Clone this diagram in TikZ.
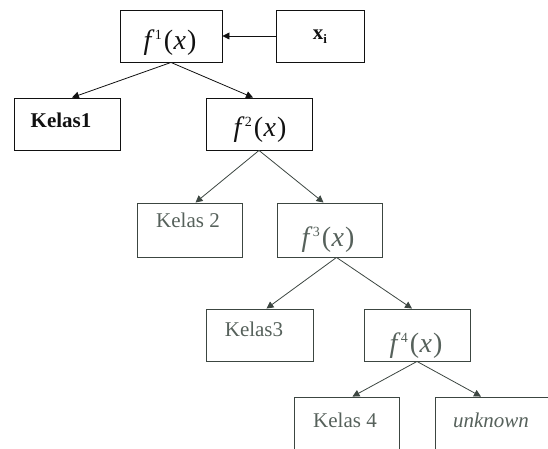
\documentclass[tikz,border=0pt]{standalone}
\usepackage{fontspec}
\setmainfont{Liberation Serif}
\usetikzlibrary{arrows.meta}
\definecolor{inkA}{HTML}{111111}
\definecolor{inkB}{HTML}{3C4641}
\definecolor{inkC}{HTML}{56615B}
\tikzset{
  box/.style={draw, line width=0.9pt, minimum width=#1, minimum height=52pt, inner sep=0pt},
  box/.default=106pt,
  lbl/.style={anchor=base, inner sep=0pt, font=\fontsize{21}{23}\selectfont},
  mth/.style={anchor=base, inner sep=0pt, font=\fontsize{28}{30}\selectfont\itshape},
  link/.style={line width=0.8pt, -{Triangle[length=7pt,width=7pt]}},
}
% f^n(x) with an upright index and upright parentheses
\newcommand{\fx}[1]{f\kern3.5pt\raisebox{10pt}{\fontsize{14}{15}\selectfont\upshape #1}\kern2pt\upshape(\kern0.5pt\itshape x\kern1pt\upshape)}
\begin{document}
\begin{tikzpicture}[x=1pt,y=-1pt]
\useasboundingbox (0,0) rectangle (548,449);
\clip (0,0) rectangle (548,449);

% top level
\begin{scope}[color=inkA]
\node[box=102pt] (f1) at (171,36) {};
\node[mth] at (170,50) {\fx{1}};
\node[box=88pt] (xi) at (320,36) {};
\node[lbl] at (320,40) {\textbf{x}\raisebox{-4pt}{\fontsize{13}{14}\selectfont\textbf{i}}};
\node[box] (k1) at (67,124) {};
\node[lbl] at (61,128) {\textbf{Kelas1}};
\node[box] (f2) at (259,124) {};
\node[mth] at (260,137) {\fx{2}};
\draw[link] (xi.west) -- (f1.east);
\draw[link] (f1.south) -- ([xshift=5pt]k1.north);
\draw[link] (f1.south) -- ([xshift=-6pt]f2.north);
\end{scope}

% second level
\begin{scope}[color=inkB]
\node[box=105pt, minimum height=54pt] (k2) at (189.5,230) {};
\node[lbl, text=inkC] at (188,227) {Kelas 2};
\node[box=105pt, minimum height=54pt] (f3) at (329.5,230) {};
\node[mth, text=inkC] at (328,246) {\fx{3}};
\draw[link] (f2.south) -- ([xshift=6pt]k2.north);
\draw[link] (f2.south) -- ([xshift=-6pt]f3.north);
\end{scope}

% third level
\begin{scope}[color=inkB]
\node[box=107pt] (k3) at (259.5,335) {};
\node[lbl, text=inkC] at (254,336) {Kelas3};
\node[box] (f4) at (417,335) {};
\node[mth, text=inkC] at (416,352) {\fx{4}};
\draw[link] ([xshift=7pt]f3.south) -- ([xshift=7pt]k3.north);
\draw[link] ([xshift=7pt]f3.south) -- ([xshift=-5pt]f4.north);
\end{scope}

% leaves
\begin{scope}[color=inkB]
\node[box=105pt] (k4) at (346.5,423) {};
\node[lbl, text=inkC] at (345,427) {Kelas 4};
\node[box=116pt] (unk) at (493,423) {};
\node[lbl, text=inkC] at (491,427) {\itshape unknown};
\draw[link] (f4.south) -- ([xshift=6pt]k4.north);
\draw[link] (f4.south) -- ([xshift=-12pt]unk.north);
\end{scope}
\end{tikzpicture}
\end{document}
